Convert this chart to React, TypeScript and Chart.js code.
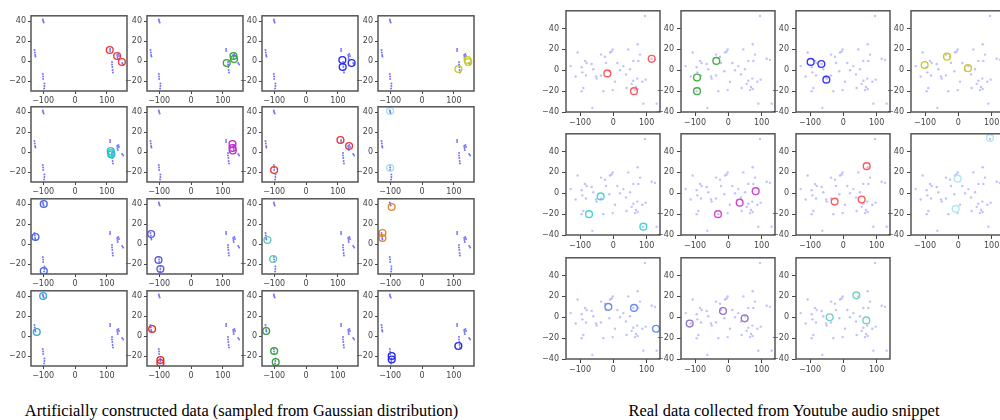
import React, { useEffect, useRef } from "react";
import { Chart, registerables } from "chart.js";

Chart.register(...registerables);

// ---------- tick labels ----------
const leftXTicks = [-100, 0, 100];
const leftYTicks = [-20, 0, 20, 40];
const rightXTicks = [-100, 0, 100];
const rightYTicks = [-40, -20, 0, 20, 40];

// ---------- artificial (Gaussian) data: background points ----------
const leftPointX = [
  -101, -100, -98,
  -127, -126, -125, -124,
  -101, -100, -100,
  -96, -96, -97,
  110, 110,
  132, 133, 134, 138, 136,
  148, 151,
  116, 116, 117,
  118, 119,
];
const leftPointY = [
  41.5, 40, 38.5,
  11, 8.5, 6, 4.5,
  -13, -15.5, -18,
  -22.5, -25, -27.5,
  12, 10,
  6, 4, 2, 5, 7,
  -2, -3.5,
  -1, -3.5, -6,
  -9, -11.5,
];

// ---------- real data: background points ----------
const rightPointX = [
  95, 73, -2, -5, -107, -37, 45, 80, -25, -10, -85, -80, -128, -95, -65, -22,
  12, 30, 60, 75, 115, 125, -113, -93, -82, -50, -37, 5, -12, 38, 60, 72, 87,
  97, -60, 20, 50, -90, -95, -30, -2, 40, 68, 73, 65, 90, -63, 130, -52, 55,
];
const rightPointY = [
  52, 25, 20, 18, 17, 15, 20, 15, 13, 17, 9, 7, 4, 3, 6, 7,
  7, 4, 9, 9, 11, 10, -6, -2, -5, -8, -5, -11, -1, -4, -10, -8, -11,
  -9, 1, 0, 1, -17, -20, -20, -19, -17, -16, -18, -19, -32, -36, -32, -6, -13,
];

// ---------- highlighted circles: artificial data (16 panels) ----------
const leftCircleColors = [
  "#f03a3a", "#35a835", "#2a2af0", "#c9c92a",
  "#25c4c8", "#c42ac4", "#e83636", "#a6e2ec",
  "#4466e6", "#5c5cd6", "#66c8b4", "#e6862e",
  "#3aa6d8", "#e42a2a", "#38a038", "#2626e6",
];
const leftCircleX = [
  [109, 132, 147], [112, 133, 135], [114, 115, 143], [114, 145, 143],
  [112, 113, 114], [130, 130, 131], [-100, 108, 135], [-100, -100],
  [-98, -124, -98], [-125, -102, -96], [-121, -103], [-95, -124, -124],
  [-100, -120], [-122, -96, -96], [-125, -100, -95], [-95, -95, 114],
];
const leftCircleY = [
  [11, 5, -1], [-2, 5, 2], [1, -6, -2], [-8, -1, 1],
  [1, -1, -2.5], [8, 4, 1.5], [-18, 12, 6], [41, -16],
  [40, 7, -27], [10, -16, -25], [4, -15], [37, 11, 6],
  [40, 4], [7, -24, -27], [5, -15, -26], [-20, -23.5, -10],
];

// ---------- highlighted circles: real data (11 panels) ----------
const rightCircleColors = [
  "#ff5a5a", "#45b045", "#3535ff", "#caca35",
  "#45d6d8", "#d445d4", "#ff5a5a", "#b0e8f2",
  "#6a8ef0", "#9474c4", "#74d2bc",
];
const rightCircleX = [
  [-18, 62, 115], [-94, -94, -36], [-98, -66, -51], [-101, -34, 29],
  [-38, -73, 90], [-31, 34, 82], [70, -26, 55], [-2, -8, 95],
  [-15, 62, 128], [-116, -16, 49], [-41, 39, 69],
];
const rightCircleY = [
  [-3, -20, 11], [-7, -20, 9], [8, 6, -9], [5, 13, 2],
  [-3, -20, -32], [-20, -9, 2], [26, -8, -6], [14, -15, 53],
  [10, 9, -11], [-6, 6, -1], [0, 21, -3],
];

const captionLeft = "Artificially constructed data (sampled from Gaussian distribution)";
const captionRight = "Real data collected from Youtube audio snippet";

// ---------- layout ----------
const leftCols = [31, 147, 262, 378];
const leftRows = [15, 106, 198, 290];
const rightCols = [566, 681, 796, 911];
const rightRows = [9, 132, 256];
const rightCounts = [4, 4, 3];

const framePlugin = {
  id: "frame",
  afterDraw(chart: any) {
    const { ctx, chartArea } = chart;
    const { left, top, right, bottom } = chartArea;
    ctx.save();
    ctx.strokeStyle = "#555";
    ctx.lineWidth = 1.5;
    ctx.strokeRect(left, top, right - left, bottom - top);
    ctx.restore();
  },
};

const fmt = (v: any) => {
  const n = Number(v);
  return n < 0 ? "\u2212" + Math.abs(n) : String(n);
};

type PanelProps = {
  left: number;
  top: number;
  w: number;
  h: number;
  xMin: number;
  xMax: number;
  yMin: number;
  yMax: number;
  xTicks: number[];
  yTicks: number[];
  px: number[];
  py: number[];
  pColor: string;
  pRadius: number;
  cx: number[];
  cy: number[];
  cColor: string;
  tickLen: number;
  tickPad: number;
};

function Panel(p: PanelProps) {
  const ref = useRef<HTMLCanvasElement>(null);
  const padL = 34;
  const padT = 6;
  const padR = 8;
  const padB = 18;
  useEffect(() => {
    const tickFont = { size: 8, family: "DejaVu Sans" };
    const chart = new Chart(ref.current as HTMLCanvasElement, {
      type: "scatter",
      data: {
        datasets: [
          {
            data: p.cx.map((x, i) => ({ x, y: p.cy[i] })),
            pointRadius: 3.4,
            pointBackgroundColor: "rgba(0,0,0,0)",
            pointBorderColor: p.cColor,
            pointBorderWidth: 1.4,
          },
          {
            data: p.px.map((x, i) => ({ x, y: p.py[i] })),
            pointRadius: p.pRadius,
            pointBackgroundColor: p.pColor,
            pointBorderWidth: 0,
          },
        ],
      },
      options: {
        animation: false,
        responsive: false,
        devicePixelRatio: 1,
        events: [],
        layout: { padding: { top: padT, right: padR, left: 0, bottom: 0 } },
        plugins: { legend: { display: false }, tooltip: { enabled: false } },
        scales: {
          x: {
            type: "linear",
            min: p.xMin,
            max: p.xMax,
            afterBuildTicks: (a: any) => {
              a.ticks = p.xTicks.map((v) => ({ value: v }));
            },
            afterFit: (s: any) => {
              s.height = padB;
            },
            grid: {
              display: true,
              drawOnChartArea: false,
              drawTicks: true,
              tickLength: p.tickLen,
              tickColor: "#444",
              color: "#444",
            },
            border: { display: false },
            ticks: {
              autoSkip: false,
              maxRotation: 0,
              padding: 2,
              font: tickFont,
              color: "#444",
              callback: fmt,
            },
          },
          y: {
            type: "linear",
            min: p.yMin,
            max: p.yMax,
            afterBuildTicks: (a: any) => {
              a.ticks = p.yTicks.map((v) => ({ value: v }));
            },
            afterFit: (s: any) => {
              s.width = padL;
            },
            grid: {
              display: true,
              drawOnChartArea: false,
              drawTicks: true,
              tickLength: p.tickLen,
              tickColor: "#444",
              color: "#444",
            },
            border: { display: false },
            ticks: {
              autoSkip: false,
              padding: p.tickPad,
              font: tickFont,
              color: "#444",
              callback: fmt,
            },
          },
        },
      } as any,
      plugins: [framePlugin],
    });
    return () => chart.destroy();
  }, []);
  return (
    <canvas
      ref={ref}
      width={p.w + padL + padR}
      height={p.h + padT + padB}
      style={{ position: "absolute", left: p.left - padL, top: p.top - padT }}
    />
  );
}

export default function App() {
  const panels: any[] = [];
  let k = 0;
  leftRows.forEach((top) => {
    leftCols.forEach((left) => {
      panels.push(
        <Panel
          key={"L" + k}
          left={left}
          top={top}
          w={96}
          h={76}
          xMin={-138}
          xMax={163}
          yMin={-30}
          yMax={45.2}
          xTicks={leftXTicks}
          yTicks={leftYTicks}
          px={leftPointX}
          py={leftPointY}
          pColor="rgba(70,70,255,0.75)"
          pRadius={1}
          cx={leftCircleX[k]}
          cy={leftCircleY[k]}
          cColor={leftCircleColors[k]}
          tickLen={3}
          tickPad={2}
        />
      );
      k++;
    });
  });
  let r = 0;
  rightRows.forEach((top, ri) => {
    rightCols.slice(0, rightCounts[ri]).forEach((left) => {
      panels.push(
        <Panel
          key={"R" + r}
          left={left}
          top={top}
          w={94}
          h={103}
          xMin={-142}
          xMax={140}
          yMin={-40}
          yMax={57}
          xTicks={rightXTicks}
          yTicks={rightYTicks}
          px={rightPointX}
          py={rightPointY}
          pColor="rgba(150,150,255,0.6)"
          pRadius={1.2}
          cx={rightCircleX[r]}
          cy={rightCircleY[r]}
          cColor={rightCircleColors[r]}
          tickLen={4}
          tickPad={3}
        />
      );
      r++;
    });
  });
  const capStyle: React.CSSProperties = {
    position: "absolute",
    top: 403,
    fontFamily: "'Liberation Serif', serif",
    fontSize: 16.4,
    lineHeight: "16px",
    whiteSpace: "nowrap",
    textAlign: "center",
    color: "#000",
  };
  return (
    <div
      style={{
        position: "absolute",
        left: 0,
        top: 0,
        width: 1000,
        height: 420,
        background: "#fff",
        overflow: "hidden",
      }}
    >
      {panels}
      <div style={{ ...capStyle, left: 0, width: 483 }}>{captionLeft}</div>
      <div style={{ ...capStyle, left: 534, width: 500 }}>{captionRight}</div>
    </div>
  );
}
